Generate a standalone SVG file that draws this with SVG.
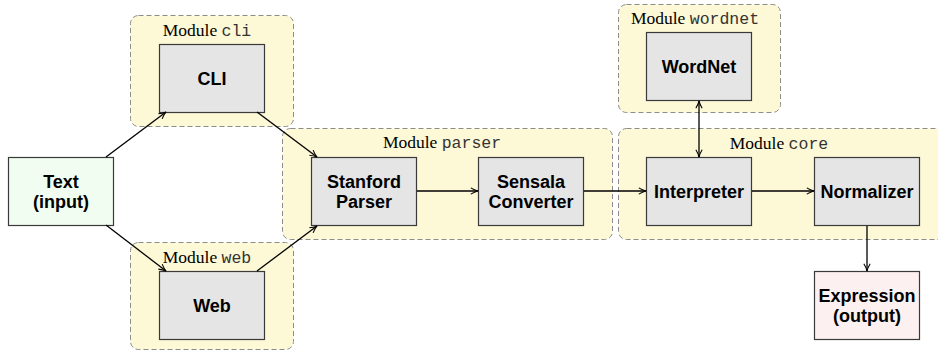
<svg xmlns="http://www.w3.org/2000/svg" width="938" height="351" viewBox="0 0 938 351">
  <style>
    .module { fill: #fdf8d6; stroke: #8c8c8c; stroke-width: 1; stroke-dasharray: 5 3; }
    .node { fill: #e5e5e5; stroke: #3a3a3a; stroke-width: 1.2; }
    .input { fill: #f1fdf1; stroke: #3a3a3a; stroke-width: 1.2; }
    .output { fill: #fdf0f0; stroke: #3a3a3a; stroke-width: 1.2; }
    .label { font-family: "Liberation Sans", Arial, sans-serif; font-weight: bold; font-size: 18px; fill: #000; text-anchor: middle; }
    .mtitle { font-family: "Liberation Serif", "Times New Roman", serif; font-size: 17.5px; fill: #000; text-anchor: middle; }
    .mono { font-family: "Liberation Mono", "Courier New", monospace; font-size: 16.5px; fill: #333; }
    .edge { fill: none; stroke: #000; stroke-width: 1.3; }
  </style>
  <defs>
    <marker id="arrow" viewBox="0 0 10 10" refX="9" refY="5" markerWidth="9" markerHeight="9" markerUnits="userSpaceOnUse" orient="auto-start-reverse">
      <path d="M1,1.5 Q5,4 9,5 Q5,6 1,8.5" fill="none" stroke="#000" stroke-width="1.2"/>
    </marker>
  </defs>

  <!-- module containers -->
  <g id="module-cli">
    <rect class="module" x="130.5" y="15.5" width="163" height="111" rx="8"/>
    <text class="mtitle" x="207" y="36">Module <tspan class="mono">cli</tspan></text>
  </g>
  <g id="module-web">
    <rect class="module" x="130.5" y="242.5" width="163" height="107" rx="8"/>
    <text class="mtitle" x="207" y="263">Module <tspan class="mono">web</tspan></text>
  </g>
  <g id="module-parser">
    <rect class="module" x="282.5" y="128.5" width="330" height="111" rx="8"/>
    <text class="mtitle" x="442" y="148">Module <tspan class="mono">parser</tspan></text>
  </g>
  <g id="module-wordnet">
    <rect class="module" x="618.5" y="4.5" width="162" height="108" rx="8"/>
    <text class="mtitle" x="695" y="24">Module <tspan class="mono">wordnet</tspan></text>
  </g>
  <g id="module-core">
    <rect class="module" x="618.5" y="128.5" width="330" height="111" rx="8"/>
    <text class="mtitle" x="779" y="149">Module <tspan class="mono">core</tspan></text>
  </g>

  <!-- nodes -->
  <g id="node-text">
    <rect class="input" x="8.5" y="157.5" width="105" height="68"/>
    <text class="label" x="61" y="188">Text</text>
    <text class="label" x="61" y="208">(input)</text>
  </g>
  <g id="node-cli">
    <rect class="node" x="159.5" y="44.5" width="105" height="68"/>
    <text class="label" x="212" y="85">CLI</text>
  </g>
  <g id="node-web">
    <rect class="node" x="159.5" y="271.5" width="105" height="68"/>
    <text class="label" x="212" y="312">Web</text>
  </g>
  <g id="node-stanford">
    <rect class="node" x="311.5" y="157.5" width="105" height="68"/>
    <text class="label" x="364" y="188">Stanford</text>
    <text class="label" x="364" y="208">Parser</text>
  </g>
  <g id="node-sensala">
    <rect class="node" x="478.5" y="157.5" width="105" height="68"/>
    <text class="label" x="531" y="188">Sensala</text>
    <text class="label" x="531" y="208">Converter</text>
  </g>
  <g id="node-wordnet">
    <rect class="node" x="646.5" y="32.5" width="105" height="68"/>
    <text class="label" x="699" y="73">WordNet</text>
  </g>
  <g id="node-interpreter">
    <rect class="node" x="646.5" y="157.5" width="105" height="68"/>
    <text class="label" x="699" y="198">Interpreter</text>
  </g>
  <g id="node-normalizer">
    <rect class="node" x="814.5" y="157.5" width="105" height="68"/>
    <text class="label" x="867" y="198">Normalizer</text>
  </g>
  <g id="node-expression">
    <rect class="output" x="814.5" y="271.5" width="105" height="68"/>
    <text class="label" x="867" y="302">Expression</text>
    <text class="label" x="867" y="322">(output)</text>
  </g>

  <!-- connectors -->
  <g id="connectors">
    <line class="edge" x1="106" y1="157" x2="166" y2="112" marker-end="url(#arrow)"/>
    <line class="edge" x1="106" y1="225" x2="166" y2="271" marker-end="url(#arrow)"/>
    <line class="edge" x1="257" y1="112" x2="317" y2="157" marker-end="url(#arrow)"/>
    <line class="edge" x1="257" y1="271" x2="317" y2="226" marker-end="url(#arrow)"/>
    <line class="edge" x1="417" y1="191" x2="478" y2="191" marker-end="url(#arrow)"/>
    <line class="edge" x1="584" y1="191" x2="646" y2="191" marker-end="url(#arrow)"/>
    <line class="edge" x1="752" y1="191" x2="814" y2="191" marker-end="url(#arrow)"/>
    <line class="edge" x1="699" y1="101" x2="699" y2="157" marker-start="url(#arrow)" marker-end="url(#arrow)"/>
    <line class="edge" x1="867" y1="226" x2="867" y2="271" marker-end="url(#arrow)"/>
  </g>
</svg>
